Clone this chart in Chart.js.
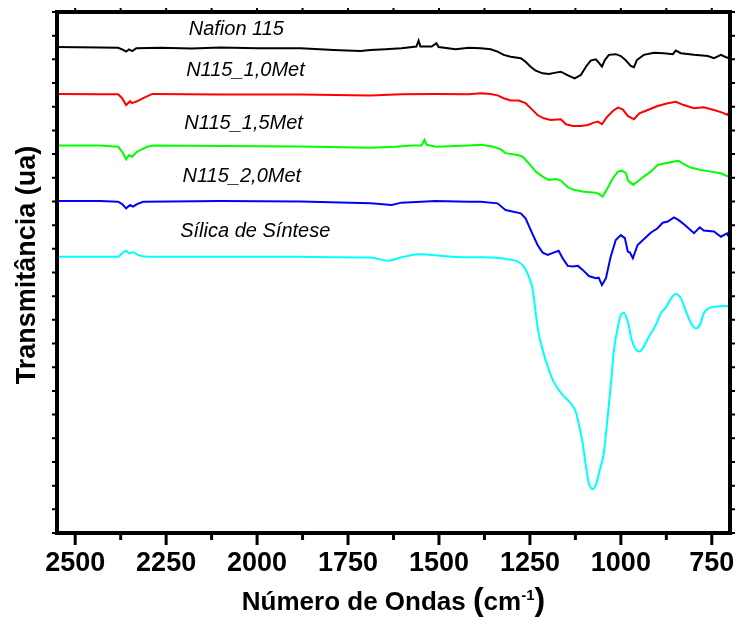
<!DOCTYPE html>
<html><head><meta charset="utf-8">
<script src="https://cdn.jsdelivr.net/npm/chart.js@4.4.1/dist/chart.umd.min.js"></script>
<style>html,body{margin:0;padding:0;background:#fff}#wrap{width:738px;height:621px;position:relative}</style>
</head><body><div id="wrap"><canvas id="c" width="738" height="621"></canvas></div>
<script>
// ---- data (wavenumber cm-1, transmittance in arbitrary units) ----
const xTickValues = [2500, 2250, 2000, 1750, 1500, 1250, 1000, 750];
const xMinorValues = [2375, 2125, 1875, 1625, 1375, 1125, 875];
const xTopValues = [2500, 2375, 2250, 2125, 2000, 1875, 1750, 1625, 1500, 1375, 1250, 1125, 1000, 875, 750];
const seriesNames = ['Nafion 115', 'N115_1,0Met', 'N115_1,5Met', 'N115_2,0Met', 'Sílica de Síntese'];
const labelWn = [2057, 2032, 2037, 2042, 2005];
const labelT = [21.01, 19.28, 17.08, 14.84, 12.48];

const nafion115 = [[2550,20.52],[2432,20.50],[2382,20.49],[2368,20.40],[2360,20.33],[2352,20.42],[2343,20.35],[2332,20.47],[2266,20.49],[2180,20.46],[2101,20.50],[2000,20.47],[1881,20.47],[1790,20.40],[1716,20.35],[1688,20.40],[1647,20.43],[1603,20.47],[1562,20.54],[1556,20.79],[1551,20.54],[1520,20.54],[1507,20.68],[1501,20.52],[1454,20.43],[1418,20.49],[1385,20.47],[1358,20.43],[1339,20.33],[1322,20.19],[1303,20.11],[1275,20.05],[1262,19.90],[1248,19.69],[1234,19.52],[1215,19.41],[1198,19.38],[1179,19.44],[1165,19.48],[1151,19.37],[1138,19.27],[1127,19.20],[1110,19.34],[1096,19.69],[1083,19.95],[1069,20.00],[1063,19.90],[1052,19.69],[1044,19.97],[1033,20.19],[1014,20.22],[1000,20.14],[986,19.95],[973,19.72],[964,19.67],[956,19.97],[937,20.19],[909,20.28],[882,20.26],[857,20.22],[849,20.37],[835,20.26],[799,20.19],[761,20.14],[744,20.05],[725,20.19],[711,20.09],[700,20.05]];
const n115_10Met = [[2550,18.54],[2432,18.53],[2382,18.53],[2371,18.36],[2360,18.07],[2349,18.23],[2344,18.15],[2330,18.23],[2313,18.36],[2288,18.54],[2101,18.52],[1881,18.52],[1688,18.47],[1603,18.53],[1509,18.54],[1418,18.53],[1385,18.57],[1358,18.54],[1339,18.48],[1322,18.36],[1303,18.26],[1281,18.26],[1262,18.15],[1248,17.94],[1229,17.65],[1212,17.51],[1193,17.44],[1165,17.47],[1151,17.26],[1132,17.19],[1110,17.19],[1091,17.23],[1074,17.33],[1063,17.37],[1052,17.26],[1039,17.55],[1022,17.82],[1008,17.96],[995,17.89],[981,17.61],[964,17.47],[949,17.72],[926,17.86],[899,18.03],[871,18.15],[849,18.21],[827,18.07],[799,17.94],[772,17.98],[744,17.86],[721,17.75],[706,17.65],[700,17.86]];
const n115_15Met = [[2550,16.36],[2432,16.36],[2382,16.31],[2371,16.10],[2360,15.78],[2352,15.96],[2344,15.89],[2330,16.10],[2302,16.31],[2286,16.36],[2101,16.34],[1881,16.32],[1688,16.27],[1619,16.31],[1575,16.36],[1548,16.36],[1540,16.60],[1534,16.39],[1507,16.31],[1418,16.36],[1385,16.39],[1350,16.31],[1330,16.20],[1317,16.04],[1284,15.96],[1270,15.89],[1253,15.61],[1234,15.26],[1215,15.05],[1198,14.91],[1179,14.95],[1165,14.88],[1146,14.60],[1129,14.49],[1102,14.41],[1069,14.37],[1061,14.32],[1050,14.21],[1039,14.49],[1022,14.98],[1008,15.26],[997,15.30],[986,15.19],[980,14.88],[966,14.70],[954,14.84],[937,15.05],[918,15.26],[899,15.54],[877,15.61],[857,15.68],[842,15.72],[827,15.58],[808,15.43],[780,15.33],[752,15.26],[725,15.19],[700,15.02]];
const n115_20Met = [[2550,14.02],[2432,14.02],[2382,13.99],[2371,13.89],[2360,13.71],[2349,13.85],[2341,13.78],[2330,13.89],[2313,13.99],[2101,14.02],[1881,14.00],[1688,13.92],[1630,13.85],[1603,13.95],[1509,14.02],[1418,13.99],[1385,13.99],[1339,13.92],[1317,13.64],[1275,13.50],[1262,13.29],[1248,12.80],[1229,12.16],[1215,11.84],[1201,11.74],[1185,11.84],[1171,11.92],[1160,11.60],[1146,11.28],[1132,11.25],[1118,11.28],[1105,11.11],[1088,10.85],[1069,10.76],[1061,10.78],[1052,10.47],[1041,10.76],[1028,11.67],[1014,12.37],[1000,12.58],[989,12.45],[981,11.88],[975,11.84],[967,11.60],[954,12.16],[937,12.40],[918,12.68],[899,12.87],[885,13.10],[871,13.15],[854,13.33],[842,13.22],[824,13.01],[799,12.66],[783,12.91],[772,12.77],[744,12.73],[725,12.51],[708,12.65],[700,12.41]];
const silicaSintese = [[2550,11.67],[2432,11.67],[2382,11.67],[2371,11.81],[2360,11.92],[2352,11.81],[2341,11.85],[2327,11.74],[2302,11.67],[2101,11.67],[1881,11.66],[1688,11.63],[1639,11.50],[1603,11.64],[1556,11.77],[1465,11.67],[1372,11.64],[1350,11.63],[1311,11.56],[1284,11.46],[1267,11.25],[1253,10.82],[1242,10.26],[1234,9.28],[1226,8.43],[1215,7.73],[1201,7.02],[1185,6.39],[1160,5.83],[1138,5.48],[1124,5.12],[1116,4.63],[1105,3.79],[1096,2.80],[1088,2.10],[1077,1.85],[1069,2.03],[1058,2.66],[1047,3.37],[1039,4.49],[1028,6.18],[1019,7.73],[1008,8.71],[1000,9.21],[992,9.30],[981,8.92],[970,8.15],[959,7.76],[948,7.66],[937,7.87],[923,8.29],[904,8.78],[890,9.28],[876,9.53],[862,9.91],[849,10.09],[835,9.91],[821,9.35],[807,8.86],[794,8.64],[783,8.78],[772,9.28],[758,9.49],[739,9.56],[717,9.59],[700,9.56]];

// ---- styles ----
const seriesData = [nafion115, n115_10Met, n115_15Met, n115_20Met, silicaSintese];
const seriesColors = ['#000000', '#ff0000', '#00ff00', '#0000ff', '#00ffff'];
const FF = '"Liberation Sans", Arial, Helvetica, sans-serif';

const datasets = seriesData.map((arr, i) => ({
  label: seriesNames[i],
  data: arr.map(p => ({x: p[0], y: p[1]})),
  borderColor: seriesColors[i],
  borderWidth: 2,
  pointRadius: 0,
  fill: false,
  tension: 0,
  cubicInterpolationMode: i === 4 ? 'monotone' : 'default'
}));

const decor = {
  id: 'decor',
  afterDatasetsDraw(chart) {
    const {ctx, chartArea: a, scales: {x, y}} = chart;
    ctx.save();
    ctx.strokeStyle = '#000';
    ctx.lineCap = 'butt';
    // ticks
    ctx.lineWidth = 3;
    ctx.beginPath();
    xTickValues.forEach(v => { const p = x.getPixelForValue(v); ctx.moveTo(p, a.bottom); ctx.lineTo(p, a.bottom + 12); });
    xMinorValues.forEach(v => { const p = x.getPixelForValue(v); ctx.moveTo(p, a.bottom); ctx.lineTo(p, a.bottom + 7); });
    ctx.stroke();
    ctx.lineWidth = 2;
    ctx.beginPath();
    xTopValues.forEach(v => { const p = x.getPixelForValue(v); ctx.moveTo(p, a.top); ctx.lineTo(p, a.top - 4); });
    for (let v = 0; v <= 22; v++) {
      const p = y.getPixelForValue(v);
      ctx.moveTo(a.left, p); ctx.lineTo(a.left - 5, p);
      ctx.moveTo(a.right, p); ctx.lineTo(a.right + 5, p);
    }
    ctx.stroke();
    // frame
    ctx.lineWidth = 4;
    ctx.strokeRect(a.left, a.top, a.right - a.left, a.bottom - a.top);
    // curve labels
    ctx.fillStyle = '#000';
    ctx.font = 'italic 20px ' + FF;
    ctx.textAlign = 'center';
    ctx.textBaseline = 'alphabetic';
    seriesNames.forEach((n, i) => {
      ctx.fillText(n, x.getPixelForValue(labelWn[i]), y.getPixelForValue(labelT[i]));
    });
    ctx.restore();
  },
  afterDraw(chart) {
    const {ctx, chartArea: a} = chart;
    ctx.save();
    ctx.fillStyle = '#000';
    ctx.textBaseline = 'alphabetic';
    ctx.textAlign = 'left';
    // x title with superscript
    const parts = [
      {t: 'Número de Ondas ', f: 'bold 26px ' + FF, dy: 0},
      {t: '(', f: 'bold 32px ' + FF, dy: 0},
      {t: 'cm', f: 'bold 26px ' + FF, dy: 0},
      {t: '-1', f: 'bold 15px ' + FF, dy: -10},
      {t: ')', f: 'bold 32px ' + FF, dy: 0}
    ];
    let total = 0;
    parts.forEach(p => { ctx.font = p.f; p.w = ctx.measureText(p.t).width; total += p.w; });
    let cx = (a.left + a.right) / 2 - total / 2;
    const base = 610;
    parts.forEach(p => { ctx.font = p.f; ctx.fillText(p.t, cx, base + p.dy); cx += p.w; });
    // y title
    ctx.translate(35, 265);
    ctx.rotate(-Math.PI / 2);
    ctx.font = 'bold 27px ' + FF;
    ctx.textAlign = 'center';
    ctx.fillText('Transmitância (ua)', 0, 0);
    ctx.restore();
  }
};

new Chart(document.getElementById('c'), {
  type: 'line',
  data: {datasets},
  options: {
    responsive: false,
    animation: false,
    events: [],
    layout: {padding: {top: 12, right: 8, bottom: 0, left: 0}},
    plugins: {legend: {display: false}, tooltip: {enabled: false}, title: {display: false}},
    scales: {
      x: {
        type: 'linear',
        reverse: true,
        min: 700,
        max: 2550,
        grid: {display: false, drawTicks: false},
        border: {display: false},
        afterBuildTicks: s => { s.ticks = xTickValues.map(v => ({value: v})); },
        afterFit: s => { s.height = 88; s.paddingLeft = 0; s.paddingRight = 0; },
        ticks: {
          autoSkip: false, maxRotation: 0, minRotation: 0, padding: 14,
          color: '#000', font: {family: FF, size: 27, weight: 'bold'},
          callback: v => String(v)
        }
      },
      y: {
        type: 'linear',
        min: 0,
        max: 22,
        grid: {display: false, drawTicks: false},
        border: {display: false},
        ticks: {display: false, stepSize: 1},
        afterFit: s => { s.width = 57; s.paddingTop = 0; s.paddingBottom = 0; }
      }
    }
  },
  plugins: [decor]
});
</script>
</body></html>
